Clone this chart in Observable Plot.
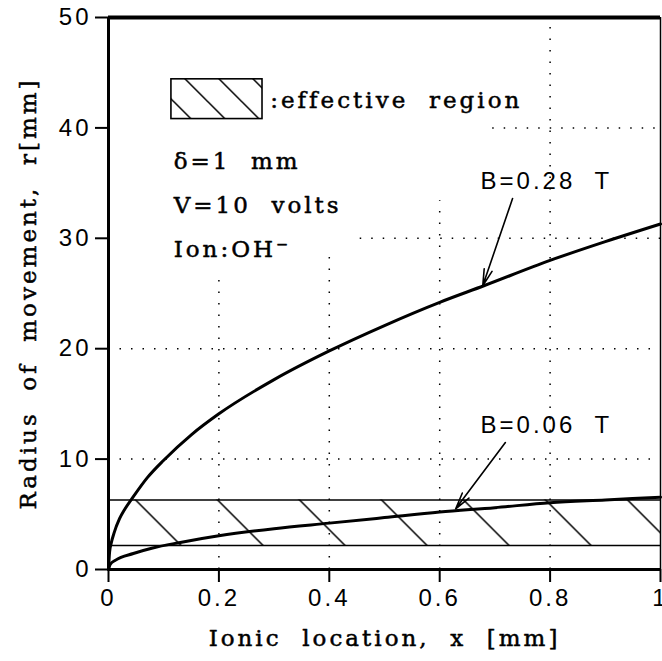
<!DOCTYPE html>
<html>
<head>
<meta charset="utf-8">
<script src="https://cdn.jsdelivr.net/npm/d3@7"></script>
<script src="https://cdn.jsdelivr.net/npm/@observablehq/plot@0.6"></script>
<style>
  html, body { margin: 0; padding: 0; background: #fff; }
  #chart svg { display: block; }
  #chart svg text { letter-spacing: 3px; }
  #chart svg g[aria-label*="axis"] line, #chart svg g[aria-label*="axis"] path { stroke-width: 2px; }
</style>
</head>
<body>
<div id="chart"></div>
<script>
// ---- data ----
const xTicks = [0, 0.2, 0.4, 0.6, 0.8, 1];
const yTicks = [0, 10, 20, 30, 40, 50];

// B = 0.28 T curve
const xB028 = [0, 0.002, 0.005, 0.01, 0.02, 0.03, 0.045, 0.07, 0.1, 0.15, 0.2, 0.3, 0.4, 0.5, 0.6, 0.68, 0.8, 0.9, 1.0];
const rB028 = [0, 1.6, 2.4, 3.3, 4.6, 5.5, 6.6, 8.3, 9.9, 12.2, 14.1, 17.2, 19.8, 22.1, 24.2, 25.7, 28.0, 29.7, 31.3];

// B = 0.06 T curve
const xB006 = [0, 0.003, 0.013, 0.045, 0.08, 0.13, 0.2, 0.3, 0.4, 0.5, 0.6, 0.7, 0.8, 0.9, 1.0];
const rB006 = [0, 0.45, 0.85, 1.45, 1.95, 2.45, 3.05, 3.7, 4.2, 4.7, 5.2, 5.6, 6.05, 6.3, 6.55];

// effective region (r band) and first hatch line position
const bandLower = 2.17;
const bandUpper = 6.3;
const bandHatchStart = 0.049;

// legend box of the hatched region
const legendX = [0.114, 0.279];
const legendY = [40.8, 44.4];
const legendHatchStart = 0.1395;

// partial dotted grid lines: [position, extent]
const gridVX = [0.2, 0.4, 0.6, 0.8];
const gridVTop = [27, 28.6, 33.4, 50];
const gridHY = [10, 20, 30, 40];
const gridHStart = [0, 0, 0.456, 0.696];

// annotation texts
const serifTexts = [":effective\u00a0\u00a0region", "δ=1\u00a0\u00a0mm", "V=10\u00a0\u00a0volts", "Ion:OH⁻"];
const serifX = [0.293, 0.118, 0.118, 0.118];
const serifY = [42.5, 36.96, 32.97, 28.99];

const sansTexts = ["B=0.28\u00a0\u00a0T", "B=0.06\u00a0\u00a0T"];
const sansX = [0.674, 0.674];
const sansY = [35.2, 13.1];

// arrows: start (x1,y1) -> head (x2,y2)
const arrowX1 = [0.732, 0.719];
const arrowY1 = [33.6, 11.5];
const arrowX2 = [0.678, 0.629];
const arrowY2 = [25.7, 5.5];

const xTitle = "Ionic\u00a0\u00a0location,\u00a0\u00a0x\u00a0\u00a0[mm]";
const yTitle = "Radius\u00a0\u00a0of\u00a0\u00a0movement,\u00a0\u00a0r[mm]";

// ---- build tables ----
const line028 = xB028.map((x, i) => ({x, r: rB028[i]}));
const line006 = xB006.map((x, i) => ({x, r: rB006[i]}));
const gridV = gridVX.map((x, i) => ({x, top: gridVTop[i]}));
const gridH = gridHY.map((y, i) => ({y, start: gridHStart[i]}));
const serifNotes = serifTexts.map((t, i) => ({t, x: serifX[i], y: serifY[i]}));
const sansNotes = sansTexts.map((t, i) => ({t, x: sansX[i], y: sansY[i]}));
const arrows = arrowX1.map((x1, i) => ({x1, y1: arrowY1[i], x2: arrowX2[i], y2: arrowY2[i]}));

const serifFont = "'DejaVu Serif', serif";
const sansFont = "'Liberation Sans', Arial, sans-serif";

const plot = Plot.plot({
  width: 662,
  height: 661,
  marginLeft: 108,
  marginRight: 2,
  marginTop: 17,
  marginBottom: 92,
  style: {fontFamily: sansFont, fontSize: "24px", background: "white", color: "black", overflow: "hidden"},
  x: {domain: [0, 1], ticks: xTicks, tickFormat: d => String(d), tickSize: 13, tickPadding: 6, label: null},
  y: {domain: [0, 50], ticks: yTicks, tickFormat: d => String(d), tickSize: 13, tickPadding: 4, label: null},
  marks: [
    // dotted partial grid
    Plot.ruleX(gridV, {x: "x", y1: 0, y2: "top", stroke: "black", strokeWidth: 1.5, strokeDasharray: "1.5,10"}),
    Plot.ruleY(gridH, {y: "y", x1: "start", x2: 1, stroke: "black", strokeWidth: 1.5, strokeDasharray: "1.5,10"}),
    // effective region band
    Plot.rect([{x1: 0, x2: 1, y1: bandLower, y2: bandUpper}], {x1: "x1", x2: "x2", y1: "y1", y2: "y2", fill: "url(#hatchBand)"}),
    Plot.ruleY([bandLower, bandUpper], {x1: 0, x2: 1, stroke: "black", strokeWidth: 1.4}),
    // legend box
    Plot.rect([{x1: legendX[0], x2: legendX[1], y1: legendY[0], y2: legendY[1]}], {x1: "x1", x2: "x2", y1: "y1", y2: "y2", fill: "url(#hatchLegend)", stroke: "black", strokeWidth: 1.6}),
    // curves
    Plot.line(line028, {x: "x", y: "r", stroke: "black", strokeWidth: 3, curve: "monotone-x"}),
    Plot.line(line006, {x: "x", y: "r", stroke: "black", strokeWidth: 3, curve: "monotone-x"}),
    // arrows
    Plot.arrow(arrows, {x1: "x1", y1: "y1", x2: "x2", y2: "y2", stroke: "black", strokeWidth: 1.6, headLength: 16, headAngle: 28}),
    // frame
    Plot.ruleY([50], {stroke: "black", strokeWidth: 4}),
    Plot.ruleX([1], {stroke: "black", strokeWidth: 1.5}),
    Plot.ruleX([0], {stroke: "black", strokeWidth: 3}),
    Plot.ruleY([0], {stroke: "black", strokeWidth: 3}),
    // annotations
    Plot.text(serifNotes, {x: "x", y: "y", text: "t", textAnchor: "start", lineAnchor: "middle", fontFamily: serifFont, fontSize: 23, fill: "black", stroke: "black", strokeWidth: 0.5}),
    Plot.text(sansNotes, {x: "x", y: "y", text: "t", textAnchor: "start", lineAnchor: "middle", fontFamily: sansFont, fontSize: 24, fill: "black"}),
    // axis titles
    Plot.text([xTitle], {frameAnchor: "bottom", dy: 69, textAnchor: "middle", lineAnchor: "middle", fontFamily: serifFont, fontSize: 23, fill: "black", stroke: "black", strokeWidth: 0.5}),
    Plot.text([yTitle], {frameAnchor: "left", dx: -80, rotate: -90, textAnchor: "middle", lineAnchor: "middle", fontFamily: serifFont, fontSize: 23, fill: "black", stroke: "black", strokeWidth: 0.5})
  ]
});

// hatch patterns aligned with the scales
const xs = plot.scale("x").apply;
const ys = plot.scale("y").apply;
const defs = d3.select(plot).insert("defs", ":first-child");
function hatch(id, spacing, px, py) {
  const offset = (((px - py) % spacing) + spacing) % spacing;
  const p = defs.append("pattern")
    .attr("id", id)
    .attr("patternUnits", "userSpaceOnUse")
    .attr("width", spacing)
    .attr("height", spacing)
    .attr("x", offset)
    .attr("y", 0);
  p.append("path")
    .attr("d", `M-2,-2L${spacing + 2},${spacing + 2}M${spacing - 3},-3L${spacing + 3},3M-3,${spacing - 3}L3,${spacing + 3}`)
    .attr("stroke", "black")
    .attr("stroke-width", 1.5)
    .attr("fill", "none");
}
hatch("hatchBand", 82, xs(bandHatchStart), ys(bandUpper));
hatch("hatchLegend", 34, xs(legendHatchStart), ys(legendY[1]));

document.getElementById("chart").appendChild(plot);
</script>
</body>
</html>
